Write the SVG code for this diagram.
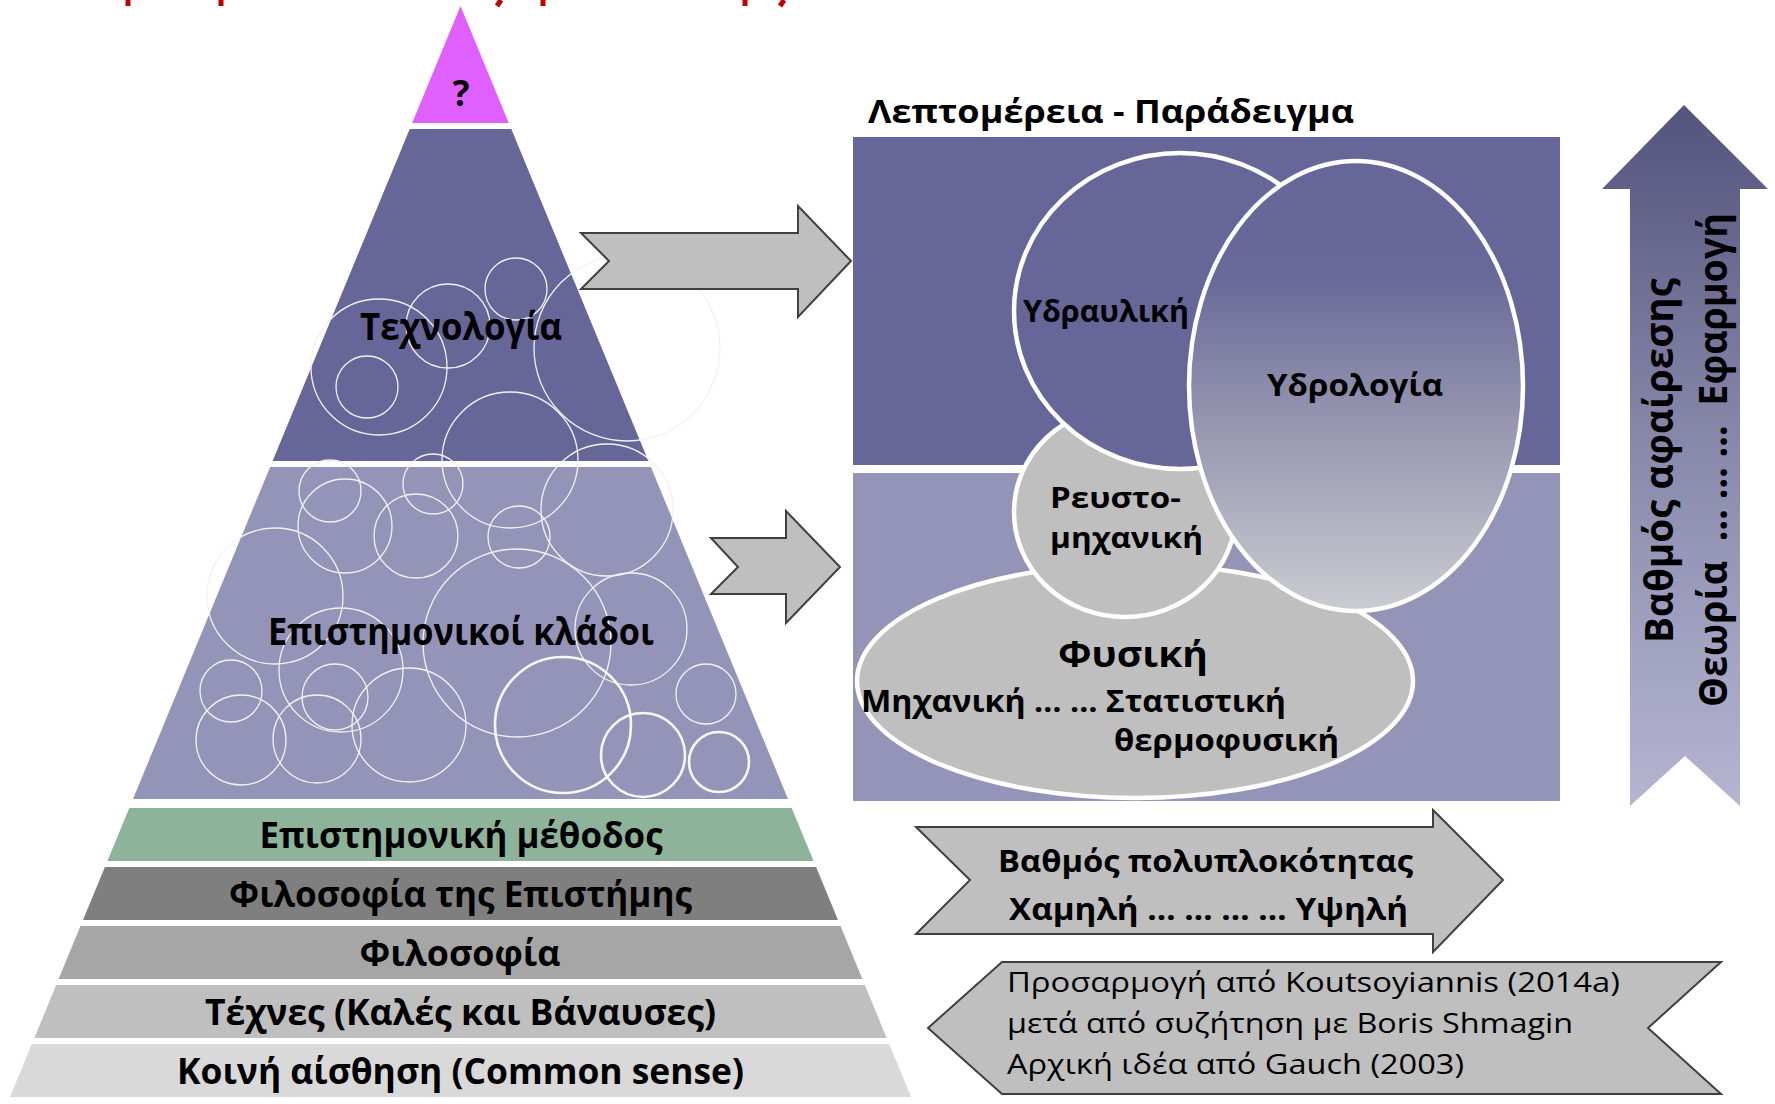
<svg xmlns="http://www.w3.org/2000/svg" width="1775" height="1104" viewBox="0 0 1775 1104">
  <defs>
    <linearGradient id="gHydro" x1="0" y1="0" x2="0" y2="1">
      <stop offset="0" stop-color="#666699"/>
      <stop offset="0.25" stop-color="#686899"/>
      <stop offset="0.55" stop-color="#9292ae"/>
      <stop offset="1" stop-color="#cbcbd1"/>
    </linearGradient>
    <linearGradient id="gVert" x1="0" y1="0" x2="0" y2="1">
      <stop offset="0" stop-color="#53537c"/>
      <stop offset="0.5" stop-color="#8a8aac"/>
      <stop offset="1" stop-color="#b5b5d2"/>
    </linearGradient>
    <style>
      .b { font-family: "Open Sans", "Noto Sans", "DejaVu Sans", sans-serif; font-weight: 700; fill: #000; }
      .r { font-family: "Open Sans", "Noto Sans", "DejaVu Sans", sans-serif; font-weight: 400; fill: #000; }
      .c { fill: none; stroke: #f2f2f2; stroke-width: 1.3; }
      .ct { fill: none; stroke: #f7f7f7; stroke-width: 2.6; }
      .blk { fill: #bfbfbf; stroke: #404040; stroke-width: 2; stroke-linejoin: miter; }
      .ell { stroke: #ffffff; stroke-width: 4.5; }
      .red { stroke: #c00000; stroke-width: 5; fill: none; }
    </style>
  </defs>

  <rect width="1775" height="1104" fill="#ffffff"/>

  <!-- red title fragments (cut off at top) -->
  <g id="title-fragments">
    <line class="red" x1="128" y1="0" x2="128" y2="6"/>
    <line class="red" x1="221" y1="0" x2="221" y2="6"/>
    <line class="red" x1="501" y1="0" x2="497" y2="6"/>
    <line class="red" x1="543" y1="0" x2="543" y2="6"/>
    <line class="red" x1="745" y1="0" x2="745" y2="6"/>
    <line class="red" x1="784" y1="0" x2="780" y2="6"/>
  </g>

  <!-- Pyramid -->
  <g id="tier-top">
    <polygon points="460.5,6 508.8,123 412.2,123" fill="#e060ff"/>
    <text class="b" x="461" y="106" font-size="35" text-anchor="middle">?</text>
  </g>
  <g id="tier-technology">
    <polygon points="409.7,129 511.3,129 648.4,461 272.6,461" fill="#666699"/>
  </g>
  <g id="tier-branches">
    <polygon points="270.1,467 650.9,467 788,799 133,799" fill="#9494b8"/>
  </g>
  <g id="bubbles">
    <circle class="c" cx="379" cy="367" r="68"/>
    <circle class="c" cx="448" cy="326" r="42"/>
    <circle class="c" cx="516" cy="289" r="31"/>
    <circle class="c" cx="367" cy="387" r="31"/>
    <circle class="c" cx="510" cy="460" r="68"/>
    <circle class="c" cx="627" cy="348" r="93" stroke="#e9e9e9"/>
    <circle class="c" cx="607" cy="510" r="66"/>
    <circle class="c" cx="330" cy="491" r="31"/>
    <circle class="c" cx="345" cy="526" r="47"/>
    <circle class="c" cx="433" cy="484" r="30"/>
    <circle class="c" cx="416" cy="536" r="42"/>
    <circle class="c" cx="519" cy="537" r="31"/>
    <circle class="c" cx="275" cy="596" r="68" stroke="#e9e9e9"/>
    <circle class="c" cx="517" cy="643" r="94"/>
    <circle class="c" cx="631" cy="629" r="56"/>
    <circle class="c" cx="341" cy="670" r="62"/>
    <circle class="c" cx="231" cy="691" r="31"/>
    <circle class="c" cx="335" cy="697" r="33"/>
    <circle class="c" cx="241" cy="740" r="45"/>
    <circle class="c" cx="317" cy="739" r="44"/>
    <circle class="c" cx="409" cy="725" r="57"/>
    <circle class="ct" cx="563" cy="725" r="68"/>
    <circle class="c" cx="706" cy="694" r="30"/>
    <circle class="ct" cx="643" cy="755" r="42"/>
    <circle class="ct" cx="719" cy="762" r="30"/>
  </g>
  <g id="label-technology">
    <text class="b" x="461" y="340" font-size="37" text-anchor="middle" textLength="202" lengthAdjust="spacingAndGlyphs">Τεχνολογία</text>
  </g>
  <g id="label-branches">
    <text class="b" x="461" y="645" font-size="37" text-anchor="middle" textLength="386" lengthAdjust="spacingAndGlyphs">Επιστημονικοί κλάδοι</text>
  </g>
  <g id="tier-method">
    <polygon points="129.3,808 791.7,808 813.6,861 107.4,861" fill="#8db49a"/>
    <text class="b" x="461" y="848" font-size="35" text-anchor="middle" textLength="403" lengthAdjust="spacingAndGlyphs">Επιστημονική μέθοδος</text>
  </g>
  <g id="tier-philosophy-science">
    <polygon points="104.9,867 816.1,867 838,920 83,920" fill="#7f7f7f"/>
    <text class="b" x="460.5" y="907" font-size="35" text-anchor="middle" textLength="463" lengthAdjust="spacingAndGlyphs">Φιλοσοφία της Επιστήμης</text>
  </g>
  <g id="tier-philosophy">
    <polygon points="80.5,926 840.5,926 862.4,979 58.6,979" fill="#a6a6a6"/>
    <text class="b" x="460" y="966" font-size="35" text-anchor="middle" textLength="201" lengthAdjust="spacingAndGlyphs">Φιλοσοφία</text>
  </g>
  <g id="tier-arts">
    <polygon points="56.2,985 864.8,985 886.7,1038 34.3,1038" fill="#bfbfbf"/>
    <text class="b" x="460.5" y="1025" font-size="35" text-anchor="middle" textLength="511" lengthAdjust="spacingAndGlyphs">Τέχνες (Καλές και Βάναυσες)</text>
  </g>
  <g id="tier-common-sense">
    <polygon points="31.8,1044 889.2,1044 911.1,1097 9.9,1097" fill="#d9d9d9"/>
    <text class="b" x="460.5" y="1084" font-size="35" text-anchor="middle" textLength="567" lengthAdjust="spacingAndGlyphs">Κοινή αίσθηση (Common sense)</text>
  </g>

  <!-- Detail panel -->
  <g id="detail-title">
    <text class="b" x="868" y="123" font-size="33" textLength="486" lengthAdjust="spacingAndGlyphs">Λεπτομέρεια - Παράδειγμα</text>
  </g>
  <g id="detail-panel">
    <rect x="853" y="137" width="707" height="328" fill="#666699"/>
    <rect x="853" y="473" width="707" height="328" fill="#9494b8"/>
  </g>
  <g id="node-physics">
    <ellipse class="ell" cx="1135" cy="681" rx="278" ry="117" fill="#bfbfbf"/>
  </g>
  <g id="node-fluid-mechanics">
    <ellipse class="ell" cx="1125" cy="512" rx="111" ry="105" fill="#bfbfbf"/>
  </g>
  <g id="node-hydraulics">
    <ellipse class="ell" cx="1180" cy="311" rx="166" ry="158" fill="#666699"/>
  </g>
  <g id="node-hydrology">
    <ellipse class="ell" cx="1356" cy="386" rx="167" ry="225" fill="url(#gHydro)"/>
  </g>
  <g id="detail-labels">
    <text class="b" x="1023" y="322" font-size="31" textLength="166" lengthAdjust="spacingAndGlyphs">Υδραυλική</text>
    <text class="b" x="1267" y="396" font-size="31" textLength="176" lengthAdjust="spacingAndGlyphs">Υδρολογία</text>
    <text class="b" x="1050" y="508" font-size="29" textLength="131" lengthAdjust="spacingAndGlyphs">Ρευστο-</text>
    <text class="b" x="1050" y="548" font-size="29" textLength="153" lengthAdjust="spacingAndGlyphs">μηχανική</text>
    <text class="b" x="1058" y="667" font-size="36" textLength="150" lengthAdjust="spacingAndGlyphs">Φυσική</text>
    <text class="b" x="861" y="712" font-size="31" textLength="425" lengthAdjust="spacingAndGlyphs">Μηχανική … … Στατιστική</text>
    <text class="b" x="1114" y="751" font-size="31" textLength="225" lengthAdjust="spacingAndGlyphs">θερμοφυσική</text>
  </g>

  <!-- connectors: block arrows from pyramid to detail -->
  <g id="connectors">
    <polygon class="blk" points="581,233 798,233 798,206 851,261 798,317 798,289 581,289 609,261"/>
    <polygon class="blk" points="711,538 786,538 786,511 840,567 786,623 786,594 711,594 738,567"/>
  </g>

  <!-- complexity arrow -->
  <g id="complexity-arrow">
    <polygon class="blk" points="916,827 1433,827 1433,810 1503,880 1433,952 1433,934 916,934 970,880"/>
    <text class="b" x="1205.5" y="872" font-size="31" text-anchor="middle" textLength="415" lengthAdjust="spacingAndGlyphs">Βαθμός πολυπλοκότητας</text>
    <text class="b" x="1208.5" y="920" font-size="31" text-anchor="middle" textLength="399" lengthAdjust="spacingAndGlyphs">Χαμηλή … … … … Υψηλή</text>
  </g>

  <!-- source arrow -->
  <g id="source-arrow">
    <polygon class="blk" stroke-width="1.5" points="928,1028 1002,962 1721,962 1648,1028 1721,1094 1002,1094"/>
    <text class="r" x="1007" y="992" font-size="28" textLength="613" lengthAdjust="spacingAndGlyphs">Προσαρμογή από Koutsoyiannis (2014a)</text>
    <text class="r" x="1007" y="1033" font-size="28" textLength="566" lengthAdjust="spacingAndGlyphs">μετά από συζήτηση με Boris Shmagin</text>
    <text class="r" x="1007" y="1074" font-size="28" textLength="457" lengthAdjust="spacingAndGlyphs">Αρχική ιδέα από Gauch (2003)</text>
  </g>

  <!-- abstraction arrow -->
  <g id="abstraction-arrow">
    <polygon points="1684,105 1768,189 1740,189 1740,806 1685,756 1630,806 1630,189 1602,189" fill="url(#gVert)"/>
    <text class="b" transform="translate(1673,460.5) rotate(-90)" x="0" y="0" font-size="39" text-anchor="middle" textLength="365" lengthAdjust="spacingAndGlyphs">Βαθμός αφαίρεσης</text>
    <text class="b" transform="translate(1727,460) rotate(-90)" x="0" y="0" font-size="39" text-anchor="middle" textLength="494" lengthAdjust="spacingAndGlyphs" xml:space="preserve">Θεωρία  … … …  Εφαρμογή</text>
  </g>
</svg>
